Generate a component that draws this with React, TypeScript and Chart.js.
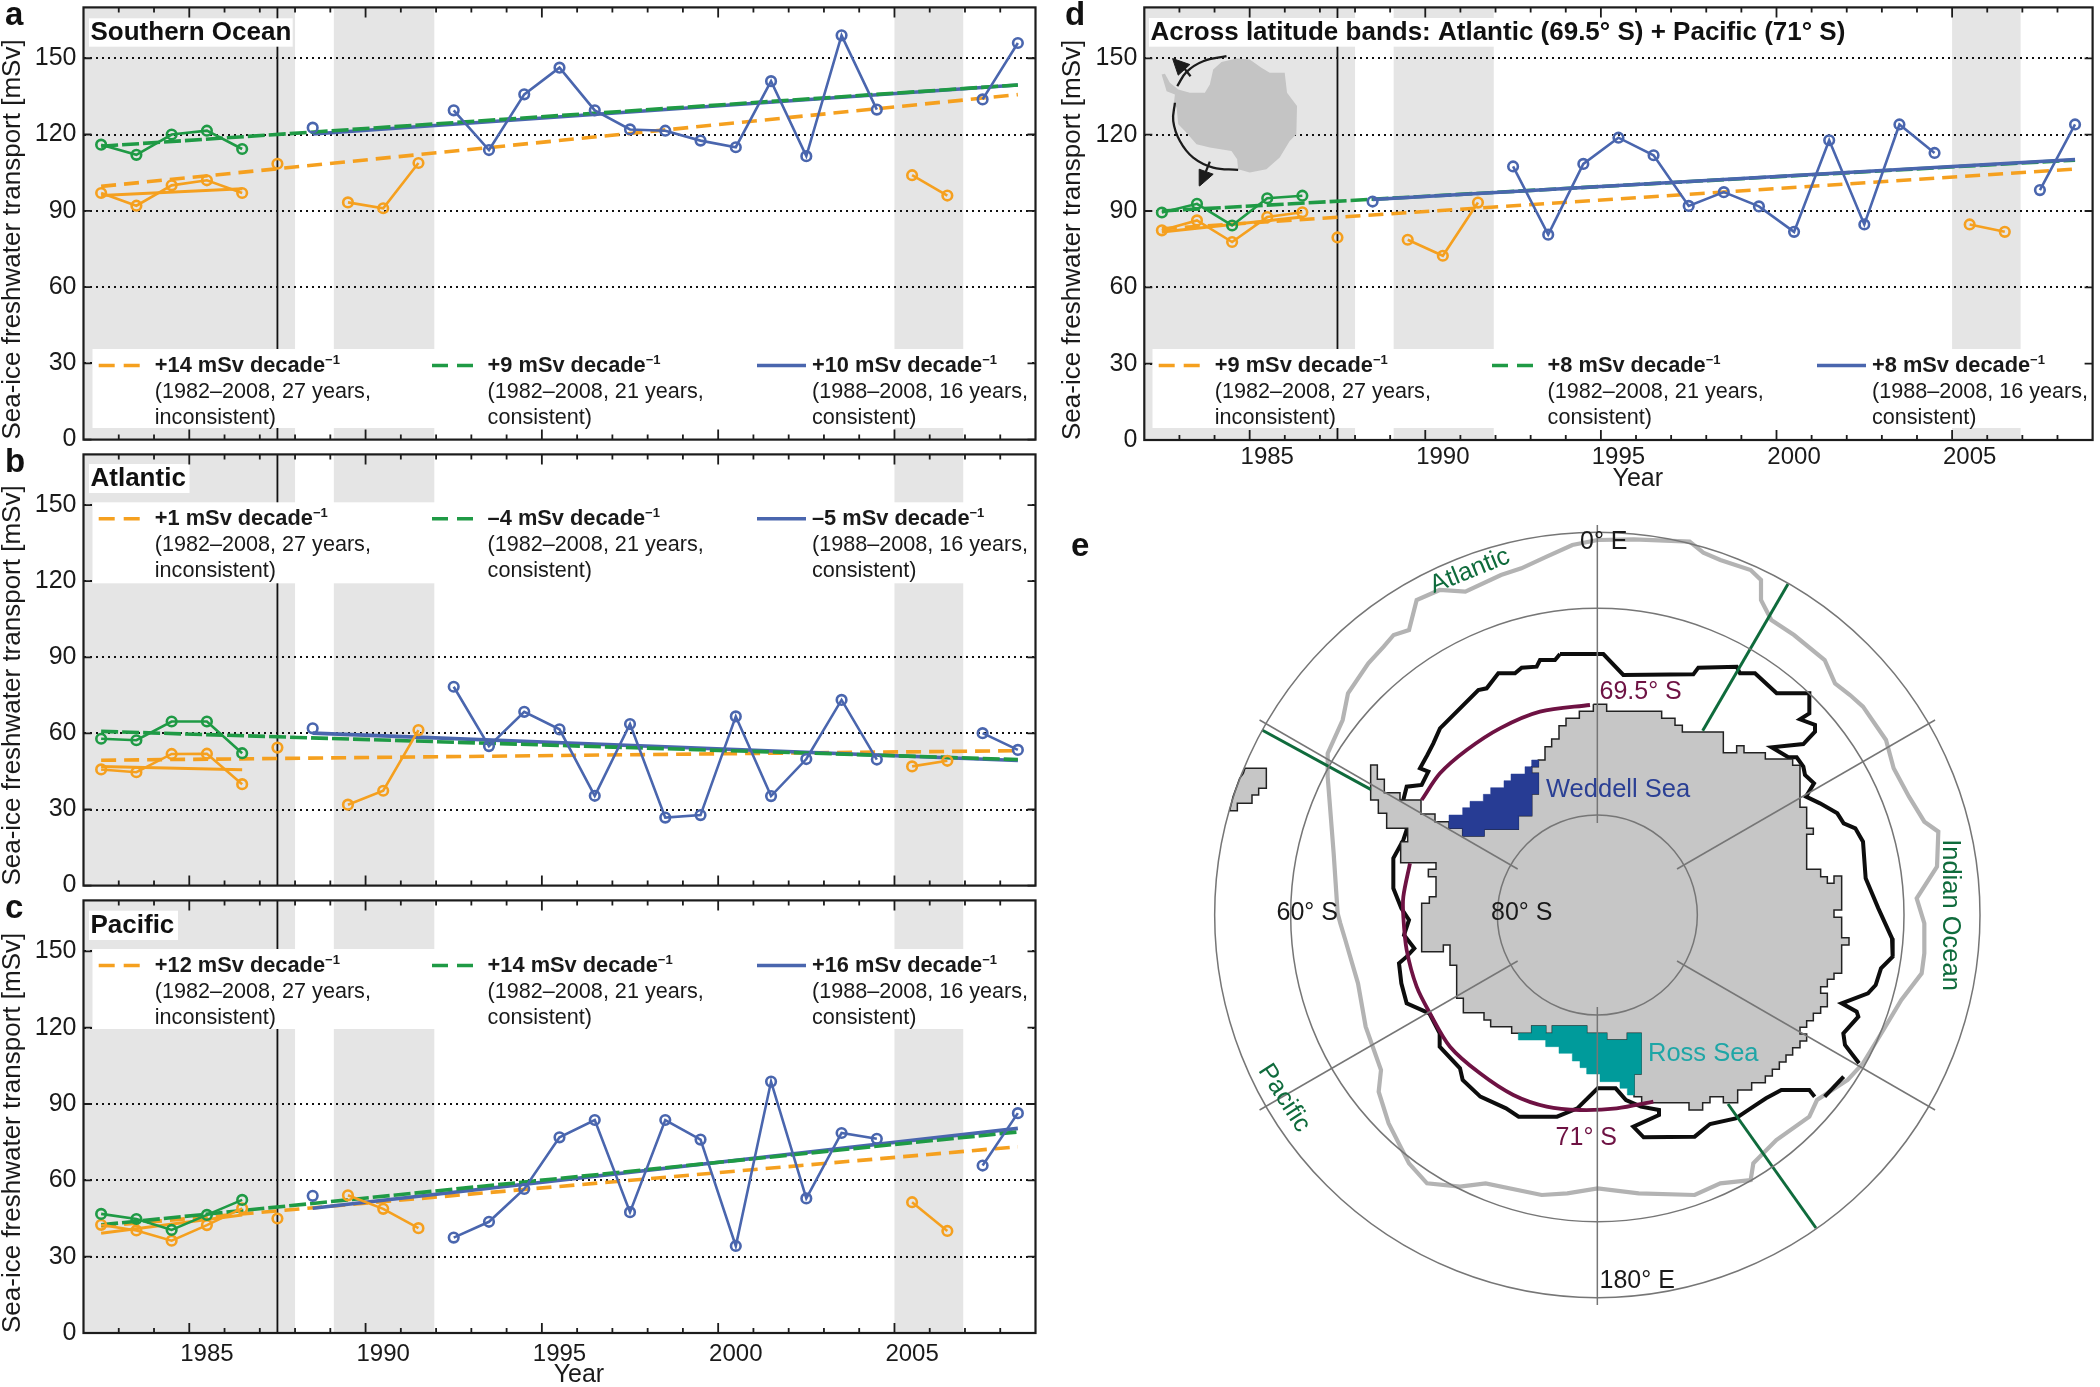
import React, { useEffect, useRef } from "react";
import { Chart, registerables } from "chart.js";

Chart.register(...registerables);

const FONT = '"Liberation Sans", Arial, Helvetica, sans-serif';
const INK = "#1c1c1c";
const ORANGE = "#f5a01f";
const GREEN = "#1f9a45";
const BLUE = "#4a66ae";
const BAND = "#e5e5e5";

// ---------- shared axes ----------
const years = [1982, 1983, 1984, 1985, 1986, 1987, 1988, 1989, 1990, 1991, 1992, 1993, 1994, 1995, 1996, 1997, 1998, 1999, 2000, 2001, 2002, 2003, 2004, 2005, 2006, 2007, 2008];
const xTickLabels = [1985, 1990, 1995, 2000, 2005];
const yTickValues = [0, 30, 60, 90, 120, 150];
const xMinorTicks = [1982.5, 1983.5, 1985.5, 1986.5, 1987.5, 1988.5, 1990.5, 1991.5, 1992.5, 1993.5, 1995.5, 1996.5, 1997.5, 1998.5, 2000.5, 2001.5, 2002.5, 2003.5, 2005.5, 2006.5, 2007.5];
const xMajorTicks = [1984.5, 1989.5, 1994.5, 1999.5, 2004.5];
const bands = [[1981.5, 1987.5], [1988.6, 1991.45], [2004.5, 2006.45]];
const _ = null;

// ---------- panel a ----------
const aOrange = [97, 92, 100, 102, 97, 108.5, _, 93.3, 91, 108.8, _, _, _, _, _, _, _, _, _, _, _, _, _, 104, 96, _, _];
const aGreen = [116, 112, 120, 121.5, 114.3, _, _, _, _, _, _, _, _, _, _, _, _, _, _, _, _, _, _, _, _, _, _];
const aBlue = [_, _, _, _, _, _, 122.7, _, _, _, 129.5, 113.9, 135.8, 146.3, 129.5, 122, 121.5, 117.6, 115, 141, 111.5, 159, 129.8, _, _, 133.8, 156];
const aOrangeShort = [96, 98.7];
const aOrangeTrend = [99.6, 135.7];
const aGreenTrend = [115.4, 139.5];
const aBlueTrend = [120.2, 139.5];

// ---------- panel b ----------
const bOrange = [45.8, 44.7, 51.9, 52, 40, 54.4, _, 31.9, 37.4, 61.3, _, _, _, _, _, _, _, _, _, _, _, _, _, 47, 49.2, _, _];
const bGreen = [57.9, 57.3, 64.7, 64.7, 52.2, _, _, _, _, _, _, _, _, _, _, _, _, _, _, _, _, _, _, _, _, _, _];
const bBlue = [_, _, _, _, _, _, 62, _, _, _, 78.4, 55, 68.5, 61.6, 35.4, 63.7, 26.8, 27.8, 66.7, 35.3, 49.9, 73.2, 49.7, _, _, 60.1, 53.5];
const bOrangeShort = [47, 45.7];
const bOrangeTrend = [49.4, 53.2];
const bGreenTrend = [60.8, 49.7];
const bBlueTrend = [60.1, 49.3];

// ---------- panel c ----------
const cOrange = [42.5, 40.3, 36.3, 42.4, 49, 45, _, 54.1, 48.8, 41.2, _, _, _, _, _, _, _, _, _, _, _, _, _, 51.4, 40.1, _, _];
const cGreen = [46.8, 44.8, 40.5, 46.4, 52.3, _, _, _, _, _, _, _, _, _, _, _, _, _, _, _, _, _, _, _, _, _, _];
const cBlue = [_, _, _, _, _, _, 53.9, _, _, _, 37.5, 43.7, 56.6, 76.9, 83.7, 47.5, 83.7, 76, 34.2, 98.8, 52.9, 78.6, 76.3, _, _, 65.8, 86.4];
const cOrangeShort = [39.2, 46.4];
const cOrangeTrend = [42, 73.2];
const cGreenTrend = [42.5, 79];
const cBlueTrend = [49, 80.4];

// ---------- panel d ----------
const dOrange = [82.4, 86.3, 77.8, 87.6, 89.5, 79.6, _, 78.7, 72.4, 93.3, _, _, _, _, _, _, _, _, _, _, _, _, _, 84.7, 81.8, _, _];
const dGreen = [89.4, 92.8, 84.3, 95, 96, _, _, _, _, _, _, _, _, _, _, _, _, _, _, _, _, _, _, _, _, _, _];
const dBlue = [_, _, _, _, _, _, 93.7, _, _, _, 107.5, 80.7, 108.5, 118.8, 111.9, 92, 97.4, 91.8, 81.8, 117.8, 84.7, 124, 112.8, _, _, 98.2, 124];
const dOrangeShort = [81.7, 87.6];
const dOrangeTrend = [83, 106.5];
const dGreenTrend = [90, 110];
const dBlueTrend = [94.5, 110.2];

const shortYears = [1982, 1986];
const trendYears = [1982, 2008];
const blueTrendYears = [1988, 2008];

// ---------- inset of panel d ----------
const insetLand = [[35, 100], [45, 98], [60, 125], [85, 145], [120, 155], [165, 155], [180, 130], [190, 85], [215, 62], [260, 52], [300, 55], [335, 80], [360, 95], [405, 95], [412, 155], [442, 195], [440, 280], [420, 300], [390, 350], [350, 385], [300, 395], [265, 385], [262, 355], [245, 330], [180, 320], [140, 310], [105, 270], [85, 250], [80, 200], [72, 185], [75, 160], [50, 150], [35, 100]];
const insetArcTop = [[82, 135], [110, 92], [160, 60], [230, 45]];
const insetArcBottom = [[75, 185], [70, 240], [90, 300], [130, 350], [190, 380], [265, 387]];
const insetArrowTop = [[68, 52], [120, 70], [85, 102], [68, 52]];
const insetArrowBottom = [[150, 435], [148, 385], [190, 400], [150, 435]];
const insetShaftTop = [[122, 105], [98, 75]];
const insetShaftBottom = [[180, 362], [165, 400]];

// ---------- map, panel e (map units; the pole is at 772, 825) ----------
const POLE = [772, 825];
const mapCircles = [300, 920, 1148];
const mapSpokes = [0, 60, 120, 180, 240, 300];
const SPOKE_IN = 276;
const SPOKE_OUT = 1170;
const landUpper = [[760, 193], [800, 193], [800, 214], [965, 214], [965, 235], [1005, 235], [1005, 256], [1027, 256], [1027, 276], [1150, 276], [1150, 338], [1190, 338], [1190, 317], [1212, 317], [1212, 338], [1276, 338], [1276, 357], [1358, 357], [1358, 376], [1380, 376], [1380, 502], [1400, 502], [1400, 565], [1420, 565], [1420, 583], [1400, 583], [1400, 688], [1442, 688], [1442, 710], [1462, 710], [1462, 730], [1482, 730], [1482, 708], [1505, 708]];
const landLower = [[1505, 60], [1482, 60], [1482, 82], [1505, 82], [1505, 143], [1527, 143], [1527, 165], [1505, 165], [1505, 250], [1482, 250], [1482, 268], [1462, 268], [1462, 290], [1442, 290], [1442, 310], [1462, 310], [1462, 350], [1442, 350], [1442, 370], [1420, 370], [1420, 392], [1400, 392], [1400, 412], [1380, 412], [1380, 432], [1400, 432], [1400, 453], [1380, 453], [1380, 473], [1358, 473], [1358, 495], [1338, 495], [1338, 516], [1318, 516], [1318, 538], [1297, 538], [1297, 558], [1276, 558], [1276, 578], [1235, 578], [1235, 600], [1193, 600], [1193, 638], [1150, 638], [1150, 620], [1110, 620], [1110, 638], [1088, 638], [1088, 660], [1047, 660], [1047, 638], [905, 638], [905, 620], [882, 620], [882, 552], [903, 552], [903, 430], [862, 430], [862, 450], [800, 450], [800, 430], [740, 430], [740, 408], [637, 408], [637, 430], [617, 430], [617, 408], [575, 408], [575, 430], [515, 430], [515, 410], [452, 410], [452, 390], [432, 390], [432, 368], [370, 368], [370, 325], [350, 325], [350, 226], [330, 226], [330, 165], [310, 165], [310, 185], [245, 185], [245, 40], [268, 40], [268, 20], [288, 20]];
const landWest = [[288, 710], [265, 710], [265, 688], [288, 688], [288, 668], [182, 668], [182, 605], [203, 605], [203, 565], [140, 565], [140, 520], [115, 520], [115, 480], [92, 480], [92, 375], [112, 375], [112, 418], [133, 418], [133, 458], [180, 458], [180, 480], [243, 480], [243, 522], [285, 522], [285, 545], [327, 545], [327, 565], [368, 565], [368, 588], [432, 588], [432, 568], [535, 568], [535, 527], [575, 527], [575, 462], [595, 462], [595, 400], [575, 400], [575, 380], [595, 380], [595, 360], [615, 360], [615, 320], [635, 320], [635, 297], [657, 297], [657, 257], [678, 257], [678, 235], [718, 235], [718, 214], [760, 214], [760, 193]];
const island = [[-285, 385], [-221, 385], [-221, 445], [-244, 445], [-244, 465], [-264, 465], [-264, 490], [-308, 490], [-308, 512], [-331, 512], [-321, 470], [-301, 415], [-290, 400], [-285, 385]];
const weddell = [[327, 565], [327, 525], [368, 525], [368, 503], [390, 503], [390, 484], [430, 484], [430, 463], [452, 463], [452, 443], [492, 443], [492, 422], [513, 422], [513, 402], [555, 402], [555, 380], [575, 380], [575, 360], [595, 360], [595, 380], [575, 380], [575, 400], [595, 400], [595, 462], [575, 462], [575, 527], [535, 527], [535, 568], [432, 568], [432, 588], [368, 588], [368, 565], [327, 565]];
const rossLower = [[535, 430], [575, 430], [575, 408], [617, 408], [617, 430], [637, 430], [637, 408], [740, 408], [740, 430], [800, 430], [800, 450], [862, 450], [862, 430], [903, 430], [903, 552], [882, 552], [882, 615], [862, 615], [862, 595], [840, 595], [840, 575], [780, 575], [780, 552], [740, 552], [740, 533], [720, 533], [720, 513], [697, 513], [697, 490], [657, 490], [657, 470], [617, 470], [617, 450], [535, 450], [535, 430]];
const iceEastEdge = [[660, 42], [790, 42], [850, 105], [1060, 103], [1075, 83], [1190, 80], [1200, 100], [1245, 100], [1310, 160], [1408, 160], [1408, 220], [1380, 238], [1425, 255], [1425, 275], [1390, 312], [1295, 322], [1345, 352], [1370, 352], [1390, 380], [1395, 405], [1422, 430], [1398, 470], [1440, 490], [1492, 520], [1511, 550], [1546, 565], [1569, 605], [1577, 715], [1615, 805], [1656, 895], [1658, 950], [1623, 985], [1607, 1035], [1584, 1060], [1505, 1090], [1550, 1115], [1555, 1130], [1510, 1180], [1515, 1215], [1557, 1270]];
const iceShortEdge = [[1511, 1310], [1454, 1370]];
const iceWestEdge = [[1424, 1370], [1408, 1350], [1324, 1350], [1278, 1375], [1232, 1405], [1187, 1435], [1110, 1452], [1064, 1490], [911, 1492], [880, 1460], [957, 1425], [957, 1410], [903, 1400], [858, 1380], [827, 1345], [773, 1345], [712, 1405], [651, 1430], [536, 1430], [498, 1405], [421, 1370], [368, 1320], [360, 1285], [299, 1220], [299, 1180], [268, 1120], [200, 1090], [184, 1030], [177, 970], [200, 950], [223, 925], [192, 885], [207, 840], [184, 805], [160, 745], [160, 655], [190, 600], [200, 570], [190, 480], [200, 440], [245, 435], [265, 395], [240, 385], [262, 345], [280, 310], [300, 265], [415, 150], [440, 145], [475, 100], [525, 100], [545, 83], [590, 80], [600, 60], [645, 60], [660, 42]];
const summerEdge = [[773, -300], [881, -302], [1049, -295], [1090, -262], [1141, -240], [1232, -210], [1263, -180], [1263, -120], [1294, -60], [1362, -15], [1454, 60], [1485, 130], [1530, 165], [1569, 200], [1638, 300], [1661, 385], [1707, 470], [1753, 545], [1795, 575], [1791, 680], [1730, 775], [1753, 850], [1753, 940], [1745, 1000], [1684, 1080], [1630, 1170], [1569, 1270], [1523, 1320], [1431, 1380], [1408, 1430], [1309, 1500], [1240, 1570], [1232, 1620], [1141, 1630], [1064, 1665], [896, 1660], [773, 1645], [682, 1660], [605, 1665], [437, 1630], [360, 1640], [261, 1630], [207, 1570], [146, 1450], [116, 1355], [123, 1290], [77, 1160], [54, 1030], [16, 900], [1, 850], [-7, 820], [-19, 640], [-37, 410], [-37, 340], [8, 240], [24, 160], [85, 70], [131, 20], [161, -15], [207, -30], [230, -120], [299, -150], [376, -145], [483, -195], [544, -215], [620, -250], [697, -285], [773, -300]];
const sectorAtlantic = [[1344, -168], [1088, 272]];
const sectorWest = [[-234, 270], [92, 448]];
const sectorPacific = [[1164, 1392], [1428, 1764]];
const lat695West = [[750, 195], [600, 215], [480, 265], [380, 330], [300, 400], [245, 480]];
const lat71 = [[210, 670], [190, 770], [190, 830], [200, 930], [230, 1040], [270, 1120], [330, 1220], [420, 1300], [520, 1365], [620, 1400], [720, 1410], [830, 1405], [940, 1385]];

const pairs = (list: number[][]) => list.map(([x, y]) => ({ x, y }));
const lower = (list: number[][]) => list.map(([x, y]) => [x, y + 750]);
const run = (xs: number[], ys: (number | null)[]) => xs.map((x, i) => ({ x, y: ys[i] }));

type Box = [number, number, number, number];
type PanelDef = {
  left: number; top: number; width: number; height: number;
  plotLeft: number; plotRight: number; plotTop: number; plotBottom: number;
  letter: string; letterX: number; title: string; titleBox: Box; titleBase: number;
  legendBox: Box; rates: string[]; showX: boolean; tickPad: number; yearY: number;
  orange: (number | null)[]; green: (number | null)[]; blue: (number | null)[];
  orangeShort: number[]; orangeTrend: number[]; greenTrend: number[]; blueTrend: number[];
  greenOnTop: boolean; inset: boolean;
};

const legendSpans = ["(1982–2008, 27 years,", "(1982–2008, 21 years,", "(1988–2008, 16 years,"];
const legendEnds = ["inconsistent)", "consistent)", "consistent)"];
const legendSampleX = [[98.7, 148.7], [432, 481], [757, 806]];
const legendTextX = [154.8, 487.6, 812];

const panels: PanelDef[] = [
  { left: 0, top: 0, width: 1050, height: 447, plotLeft: 83.5, plotRight: 1035.5, plotTop: 6, plotBottom: 440, letter: "a", letterX: 5, title: "Southern Ocean", titleBox: [89, 18.3, 203.7, 28.4], titleBase: 40, legendBox: [92.5, 349, 938, 79], rates: ["+14", "+9", "+10"], showX: false, tickPad: 0, yearY: 0, orange: aOrange, green: aGreen, blue: aBlue, orangeShort: aOrangeShort, orangeTrend: aOrangeTrend, greenTrend: aGreenTrend, blueTrend: aBlueTrend, greenOnTop: true, inset: false },
  { left: 0, top: 447, width: 1050, height: 446, plotLeft: 83.5, plotRight: 1035.5, plotTop: 6, plotBottom: 440, letter: "b", letterX: 5, title: "Atlantic", titleBox: [89, 17, 100.5, 29], titleBase: 39, legendBox: [92.5, 55.3, 938, 81], rates: ["+1", "–4", "–5"], showX: false, tickPad: 0, yearY: 0, orange: bOrange, green: bGreen, blue: bBlue, orangeShort: bOrangeShort, orangeTrend: bOrangeTrend, greenTrend: bGreenTrend, blueTrend: bBlueTrend, greenOnTop: true, inset: false },
  { left: 0, top: 893, width: 1050, height: 494, plotLeft: 83.5, plotRight: 1035.5, plotTop: 7, plotBottom: 440, letter: "c", letterX: 5, title: "Pacific", titleBox: [89, 17.7, 89, 29.3], titleBase: 39.7, legendBox: [92.5, 56, 938, 80], rates: ["+12", "+14", "+16"], showX: true, tickPad: -1, yearY: 482, orange: cOrange, green: cGreen, blue: cBlue, orangeShort: cOrangeShort, orangeTrend: cOrangeTrend, greenTrend: cGreenTrend, blueTrend: cBlueTrend, greenOnTop: true, inset: false },
  { left: 1060, top: 0, width: 1040, height: 495, plotLeft: 84.3, plotRight: 1034.3, plotTop: 6, plotBottom: 440, letter: "d", letterX: 5, title: "Across latitude bands: Atlantic (69.5° S) + Pacific (71° S)", titleBox: [89, 18, 701, 28.7], titleBase: 40, legendBox: [92.5, 349, 937, 79], rates: ["+9", "+8", "+8"], showX: true, tickPad: -5, yearY: 479, orange: dOrange, green: dGreen, blue: dBlue, orangeShort: dOrangeShort, orangeTrend: dOrangeTrend, greenTrend: dGreenTrend, blueTrend: dBlueTrend, greenOnTop: false, inset: true },
];

const stack = (list: any[]) => list.map((d, i) => ({ type: "scatter", showLine: true, order: list.length - i, ...d }));

function buildDatasets(p: PanelDef) {
  const hideGap = { borderColor: (c: any) => (c.p0.parsed.x === 1986 ? "rgba(0,0,0,0)" : undefined) };
  const marker = { pointRadius: 4.8, pointBorderWidth: 2.6, pointBackgroundColor: "rgba(0,0,0,0)", borderWidth: 2.6, spanGaps: false };
  const trend = { pointRadius: 0, borderWidth: 3.6 };
  const inset = p.inset
    ? [
        { data: pairs(insetLand), xAxisID: "ix", yAxisID: "iy", borderWidth: 0, backgroundColor: "#c4c4c4", fill: "shape", pointRadius: 0 },
        ...[insetArcTop, insetArcBottom, insetShaftTop, insetShaftBottom].map((a) => ({ data: pairs(a), xAxisID: "ix", yAxisID: "iy", borderColor: INK, borderWidth: 2.3, pointRadius: 0, tension: a.length > 2 ? 0.4 : 0 })),
        ...[insetArrowTop, insetArrowBottom].map((a) => ({ data: pairs(a), xAxisID: "ix", yAxisID: "iy", borderColor: INK, borderWidth: 1, backgroundColor: INK, fill: "shape", pointRadius: 0 })),
      ]
    : [];
  const blueT = { data: run(blueTrendYears, p.blueTrend), borderColor: BLUE, ...trend };
  const greenT = { data: run(trendYears, p.greenTrend), borderColor: GREEN, borderDash: [17, 4], ...trend };
  return stack([
    ...inset,
    { data: run(trendYears, p.orangeTrend), borderColor: ORANGE, borderDash: [15, 8], ...trend },
    ...(p.greenOnTop ? [blueT, greenT] : [greenT, blueT]),
    { data: run(shortYears, p.orangeShort), borderColor: ORANGE, pointRadius: 0, borderWidth: 3 },
    { data: run(years, p.orange), borderColor: ORANGE, pointBorderColor: ORANGE, segment: hideGap, ...marker },
    { data: run(years, p.green), borderColor: GREEN, pointBorderColor: GREEN, ...marker },
    { data: run(years, p.blue), borderColor: BLUE, pointBorderColor: BLUE, ...marker },
  ]);
}

function decorations(p: PanelDef) {
  return {
    id: "panelDecor",
    beforeDraw(chart: any) {
      const { ctx, chartArea: a, scales } = chart;
      ctx.save();
      ctx.fillStyle = "#ffffff";
      ctx.fillRect(0, 0, chart.width, chart.height);
      ctx.fillStyle = BAND;
      bands.forEach(([from, to]) => {
        const x0 = scales.x.getPixelForValue(from);
        const x1 = scales.x.getPixelForValue(to);
        ctx.fillRect(x0, a.top, x1 - x0, a.bottom - a.top);
      });
      ctx.restore();
    },
    beforeDatasetsDraw(chart: any) {
      const { ctx, chartArea: a, scales } = chart;
      ctx.save();
      const vx = scales.x.getPixelForValue(1987);
      ctx.strokeStyle = "#111";
      ctx.lineWidth = 1.8;
      ctx.beginPath();
      ctx.moveTo(vx, a.top);
      ctx.lineTo(vx, a.bottom);
      ctx.stroke();
      ctx.fillStyle = "#ffffff";
      ctx.fillRect(...p.titleBox);
      ctx.fillRect(...p.legendBox);
      ctx.restore();
    },
    afterDraw(chart: any) {
      const { ctx, chartArea: a, scales } = chart;
      ctx.save();
      // inward ticks on all four sides
      ctx.strokeStyle = INK;
      ctx.lineWidth = 1.8;
      const vTick = (v: number, len: number) => {
        const x = scales.x.getPixelForValue(v);
        ctx.beginPath();
        ctx.moveTo(x, a.bottom);
        ctx.lineTo(x, a.bottom - len);
        ctx.moveTo(x, a.top);
        ctx.lineTo(x, a.top + len);
        ctx.stroke();
      };
      xMinorTicks.forEach((v) => vTick(v, 5));
      xMajorTicks.forEach((v) => vTick(v, 10));
      yTickValues.forEach((v) => {
        const y = scales.y.getPixelForValue(v);
        ctx.beginPath();
        ctx.moveTo(a.left, y);
        ctx.lineTo(a.left + 8, y);
        ctx.moveTo(a.right, y);
        ctx.lineTo(a.right - 8, y);
        ctx.stroke();
      });
      ctx.lineWidth = 2.2;
      ctx.strokeRect(a.left, a.top, a.right - a.left, a.bottom - a.top);

      // panel letter and heading
      ctx.fillStyle = "#111";
      ctx.textBaseline = "alphabetic";
      ctx.textAlign = "left";
      ctx.font = `bold 33px ${FONT}`;
      ctx.fillText(p.letter, p.letterX, 25);
      ctx.font = `bold 26px ${FONT}`;
      ctx.fillText(p.title, p.titleBox[0] + 1.5, p.titleBase);

      // legend
      const [, boxTop] = p.legendBox;
      const colors = [ORANGE, GREEN, BLUE];
      p.rates.forEach((rate, i) => {
        const [x0, x1] = legendSampleX[i];
        ctx.strokeStyle = colors[i];
        ctx.lineWidth = 3.4;
        ctx.setLineDash(i === 2 ? [] : [16, 9]);
        ctx.beginPath();
        ctx.moveTo(x0, boxTop + 16.5);
        ctx.lineTo(x1, boxTop + 16.5);
        ctx.stroke();
        ctx.setLineDash([]);
        const tx = legendTextX[i];
        ctx.fillStyle = "#1a1a1a";
        ctx.font = `bold 21.8px ${FONT}`;
        const head = `${rate} mSv decade`;
        ctx.fillText(head, tx, boxTop + 23);
        const w = ctx.measureText(head).width;
        ctx.font = `bold 13px ${FONT}`;
        ctx.fillText("−1", tx + w, boxTop + 15);
        ctx.font = `21.6px ${FONT}`;
        ctx.fillText(legendSpans[i], tx, boxTop + 49);
        ctx.fillText(legendEnds[i], tx, boxTop + 74.5);
      });

      if (p.showX) {
        ctx.font = `25px ${FONT}`;
        ctx.textAlign = "center";
        ctx.textBaseline = "middle";
        ctx.fillStyle = "#1a1a1a";
        ctx.fillText("Year", scales.x.getPixelForValue(1995.55), p.yearY);
      }
      ctx.restore();
    },
  };
}

function Panel({ p }: { p: PanelDef }) {
  const ref = useRef<HTMLCanvasElement>(null);
  useEffect(() => {
    const chart = new Chart(ref.current as HTMLCanvasElement, {
      type: "scatter",
      data: { datasets: buildDatasets(p) as any },
      plugins: [decorations(p)],
      options: {
        animation: false,
        responsive: false,
        devicePixelRatio: 1,
        layout: { padding: { left: 0, top: p.plotTop, right: p.width - p.plotRight, bottom: 0 } },
        plugins: { legend: { display: false }, tooltip: { enabled: false } },
        scales: {
          x: {
            type: "linear",
            min: 1981.5,
            max: 2008.5,
            grid: { display: false },
            border: { display: false },
            afterBuildTicks: (s: any) => { s.ticks = xTickLabels.map((value) => ({ value })); },
            afterFit: (s: any) => { s.height = p.height - p.plotBottom; s.paddingLeft = 0; s.paddingRight = 0; },
            ticks: { display: p.showX, autoSkip: false, maxRotation: 0, minRotation: 0, padding: p.tickPad, color: "#1a1a1a", font: { family: FONT, size: 24 }, callback: (v: any) => String(v) },
          },
          y: {
            type: "linear",
            min: 0,
            max: 170,
            afterBuildTicks: (s: any) => { s.ticks = yTickValues.map((value) => ({ value })); },
            afterFit: (s: any) => { s.width = p.plotLeft; s.paddingTop = 0; s.paddingBottom = 0; },
            grid: { drawTicks: false, color: (c: any) => (c.tick && c.tick.value === 0 ? "rgba(0,0,0,0)" : "#111"), lineWidth: 2 },
            border: { display: false, dash: [2, 4] },
            ticks: { padding: 7, color: "#1a1a1a", font: { family: FONT, size: 25 } },
            title: { display: true, text: "Sea-ice freshwater transport [mSv]", align: "start", color: "#1a1a1a", font: { family: FONT, size: 26 }, padding: { top: -3, bottom: 0 } },
          },
          ix: { type: "linear", axis: "x", display: false, min: -17, max: 2833 },
          iy: { type: "linear", axis: "y", display: false, reverse: true, min: -102, max: 1200 },
        },
      } as any,
    });
    return () => chart.destroy();
  }, [p]);
  return <canvas ref={ref} width={p.width} height={p.height} style={{ position: "absolute", left: p.left, top: p.top, width: p.width, height: p.height }} />;
}

const MAP = { left: 1060, top: 495, width: 1040, height: 892 };
const mapLabels: [string, number, number, string, number, number][] = [
  ["0° E", 1580, 541.7, "#1a1a1a", 0, 25],
  ["60° S", 1276.5, 913, "#1a1a1a", 0, 25],
  ["80° S", 1491, 913, "#1a1a1a", 0, 25],
  ["69.5° S", 1599.5, 691.7, "#6e1243", 0, 25],
  ["71° S", 1555.6, 1138, "#6e1243", 0, 25],
  ["180° E", 1599.5, 1280.7, "#1a1a1a", 0, 25],
  ["Weddell Sea", 1546, 790, "#2a3f94", 0, 25.5],
  ["Ross Sea", 1648, 1054, "#1fa6a6", 0, 25.5],
];
const mapRotated: [string, number, number, number, number][] = [
  ["Atlantic", 1470, 571, -22, 25.5],
  ["Indian Ocean", 1950, 915, 90, 25.5],
  ["Pacific", 1284, 1098, 57, 25.5],
];

function MapPanel() {
  const ref = useRef<HTMLCanvasElement>(null);
  useEffect(() => {
    const line = (list: number[][], color: string, width: number, extra: any = {}) => ({ data: pairs(list), borderColor: color, borderWidth: width, pointRadius: 0, ...extra });
    const poly = (list: number[][], fill: string, stroke: string, width: number) => ({ data: pairs(list), backgroundColor: fill, borderColor: stroke, borderWidth: width, fill: "shape", pointRadius: 0 });
    const land = [...landUpper, ...lower(landLower), ...landWest];
    const spokes = mapSpokes.map((deg) => {
      const t = (deg * Math.PI) / 180;
      return line([[POLE[0] + SPOKE_IN * Math.sin(t), POLE[1] - SPOKE_IN * Math.cos(t)], [POLE[0] + SPOKE_OUT * Math.sin(t), POLE[1] - SPOKE_OUT * Math.cos(t)]], "#767676", 1.5);
    });
    const chart = new Chart(ref.current as HTMLCanvasElement, {
      type: "scatter",
      data: {
        datasets: stack([
          line(summerEdge, "#b3b3b3", 4.2),
          line(iceEastEdge, "#0d0d0d", 4),
          line(iceShortEdge, "#0d0d0d", 4),
          line(iceWestEdge, "#0d0d0d", 4),
          poly(island, "#c6c6c6", "#222222", 1.5),
          poly(land, "#c6c6c6", "#222222", 1.5),
          poly(weddell, "#273c94", "#273c94", 0.5),
          poly(lower(rossLower), "#009b9b", "#009b9b", 0.5),
          line(sectorAtlantic, "#0f6b3c", 3),
          line(sectorWest, "#0f6b3c", 3),
          line(sectorPacific, "#0f6b3c", 3),
          line(lat695West, "#6e1243", 3.8, { tension: 0.3 }),
          line(lat71, "#6e1243", 3.8, { tension: 0.3 }),
          ...spokes,
        ]) as any,
      },
      plugins: [
        {
          id: "mapDecor",
          beforeDraw(c: any) {
            c.ctx.save();
            c.ctx.fillStyle = "#ffffff";
            c.ctx.fillRect(0, 0, c.width, c.height);
            c.ctx.restore();
          },
          afterDatasetsDraw(c: any) {
            const { ctx, scales } = c;
            const cx = scales.x.getPixelForValue(POLE[0]);
            const cy = scales.y.getPixelForValue(POLE[1]);
            const unit = Math.abs(scales.x.getPixelForValue(1) - scales.x.getPixelForValue(0));
            ctx.save();
            ctx.strokeStyle = "#767676";
            ctx.lineWidth = 1.5;
            mapCircles.forEach((r) => {
              ctx.beginPath();
              ctx.arc(cx, cy, r * unit, 0, Math.PI * 2);
              ctx.stroke();
            });
            ctx.textAlign = "left";
            ctx.fillStyle = "#111";
            ctx.font = `bold 33px ${FONT}`;
            ctx.textBaseline = "alphabetic";
            ctx.fillText("e", 11, 61);
            ctx.textBaseline = "middle";
            mapLabels.forEach(([t, x, y, col, , size]) => {
              ctx.fillStyle = col;
              ctx.font = `${size}px ${FONT}`;
              ctx.fillText(t, x - MAP.left, y - MAP.top);
            });
            ctx.textAlign = "center";
            mapRotated.forEach(([t, x, y, rot, size]) => {
              ctx.save();
              ctx.translate(x - MAP.left, y - MAP.top);
              ctx.rotate((rot * Math.PI) / 180);
              ctx.fillStyle = "#0f6b3c";
              ctx.font = `${size}px ${FONT}`;
              ctx.fillText(t, 0, 0);
              ctx.restore();
            });
            ctx.restore();
          },
        },
      ],
      options: {
        animation: false,
        responsive: false,
        devicePixelRatio: 1,
        layout: { padding: 0 },
        plugins: { legend: { display: false }, tooltip: { enabled: false } },
        scales: {
          x: { type: "linear", display: false, min: (MAP.left - 1340) * 3, max: (MAP.left + MAP.width - 1340) * 3 },
          y: { type: "linear", display: false, reverse: true, min: (MAP.top - 640) * 3, max: (MAP.top + MAP.height - 640) * 3 },
        },
      } as any,
    });
    return () => chart.destroy();
  }, []);
  return <canvas ref={ref} width={MAP.width} height={MAP.height} style={{ position: "absolute", left: MAP.left, top: MAP.top, width: MAP.width, height: MAP.height }} />;
}

export default function App() {
  return (
    <div style={{ position: "absolute", left: 0, top: 0, width: 2100, height: 1387, background: "#fff", overflow: "hidden" }}>
      {panels.map((p) => (
        <Panel key={p.letter} p={p} />
      ))}
      <MapPanel />
    </div>
  );
}
